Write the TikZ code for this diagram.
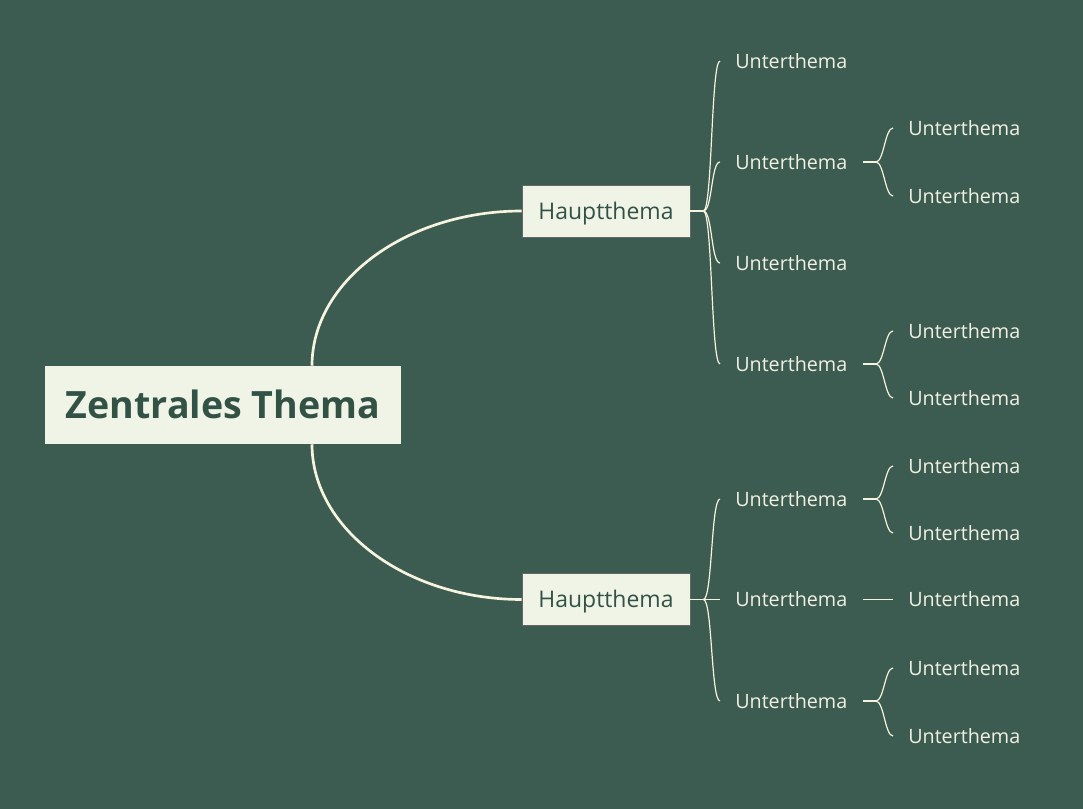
\documentclass[tikz,border=0pt]{standalone}
\usepackage{fontspec}
\setmainfont{Open Sans}
\definecolor{bgcol}{RGB}{61,92,81}
\definecolor{boxfill}{RGB}{240,244,231}
\definecolor{boxtext}{RGB}{50,82,70}
\definecolor{linecol}{RGB}{246,244,222}
\definecolor{subtext}{RGB}{240,241,228}
\begin{document}
\begin{tikzpicture}[x=0.75pt,y=-0.75pt,
  central/.style={fill=boxfill, text=boxtext, minimum width=267pt, minimum height=58.5pt, inner sep=0pt,
    text height=20.1pt, text depth=0pt,
    font=\fontsize{28.2pt}{32pt}\selectfont\bfseries},
  mainbox/.style={fill=boxfill, draw=black!60, line width=0.6pt, text=boxtext, minimum width=126pt, minimum height=39pt, inner sep=0pt,
    text height=12.3pt, text depth=0pt,
    font=\fontsize{17.2pt}{20pt}\selectfont},
  subnode/.style={anchor=west, text=subtext, inner xsep=11.25pt, inner ysep=0pt,
    text height=10.6pt, text depth=0pt,
    font=\fontsize{14.8pt}{18pt}\selectfont},
  mainline/.style={draw=linecol, line width=2pt},
  subline/.style={draw=linecol, line width=0.9pt},
]
\fill[bgcol] (0,0) rectangle (1083,809);
\useasboundingbox (0,0) rectangle (1083,809);

% central and main topics
\node[central] (c) at (223,405) {Zentrales Thema};
\node[mainbox] (h1) at (606,211) {Hauptthema};
\node[mainbox] (h2) at (606,599.5) {Hauptthema};

% level 2 (top)
\node[subnode] (u11) at (720,61) {Unterthema};
\node[subnode] (u12) at (720,162) {Unterthema};
\node[subnode] (u13) at (720,263) {Unterthema};
\node[subnode] (u14) at (720,364) {Unterthema};
% level 2 (bottom)
\node[subnode] (u21) at (720,499) {Unterthema};
\node[subnode] (u22) at (720,599.5) {Unterthema};
\node[subnode] (u23) at (720,701) {Unterthema};

% level 3
\node[subnode] (v121) at (893,128) {Unterthema};
\node[subnode] (v122) at (893,196) {Unterthema};
\node[subnode] (v141) at (893,331) {Unterthema};
\node[subnode] (v142) at (893,398) {Unterthema};
\node[subnode] (v211) at (893,466) {Unterthema};
\node[subnode] (v212) at (893,533) {Unterthema};
\node[subnode] (v221) at (893,599.5) {Unterthema};
\node[subnode] (v231) at (893,668) {Unterthema};
\node[subnode] (v232) at (893,736) {Unterthema};

% main curves
\coordinate (ct) at ([xshift=66.75pt]c.north);
\coordinate (cb) at ([xshift=66.75pt]c.south);
\draw[mainline] (ct) .. controls +(0,-85) and +(-115,0) .. (h1.west);
\draw[mainline] (cb) .. controls +(0,85) and +(-115,0) .. (h2.west);

% junctions
\coordinate (j1) at ([xshift=9.75pt]h1.east);
\coordinate (j2) at ([xshift=9.75pt]h2.east);
\draw[subline] (h1.east) -- (j1);
\draw[subline] (h2.east) -- (j2);
\foreach \n in {u11,u12,u13,u14}
  \draw[subline] (j1) .. controls +(9,0) and +(-9,0) .. (\n.west);
\foreach \n in {u21,u23}
  \draw[subline] (j2) .. controls +(9,0) and +(-9,0) .. (\n.west);
\draw[subline] (j2) -- (u22.west);

% level 3 connectors
\coordinate (k12) at ([xshift=10pt]u12.east);
\coordinate (k14) at ([xshift=10pt]u14.east);
\coordinate (k21) at ([xshift=10pt]u21.east);
\coordinate (k23) at ([xshift=10pt]u23.east);
\draw[subline] (u12.east) -- (k12);
\draw[subline] (u14.east) -- (k14);
\draw[subline] (u21.east) -- (k21);
\draw[subline] (u23.east) -- (k23);
\draw[subline] (k12) .. controls +(8,0) and +(-8,0) .. (v121.west);
\draw[subline] (k12) .. controls +(8,0) and +(-8,0) .. (v122.west);
\draw[subline] (k14) .. controls +(8,0) and +(-8,0) .. (v141.west);
\draw[subline] (k14) .. controls +(8,0) and +(-8,0) .. (v142.west);
\draw[subline] (k21) .. controls +(8,0) and +(-8,0) .. (v211.west);
\draw[subline] (k21) .. controls +(8,0) and +(-8,0) .. (v212.west);
\draw[subline] (u22.east) -- (v221.west);
\draw[subline] (k23) .. controls +(8,0) and +(-8,0) .. (v231.west);
\draw[subline] (k23) .. controls +(8,0) and +(-8,0) .. (v232.west);
\end{tikzpicture}
\end{document}
